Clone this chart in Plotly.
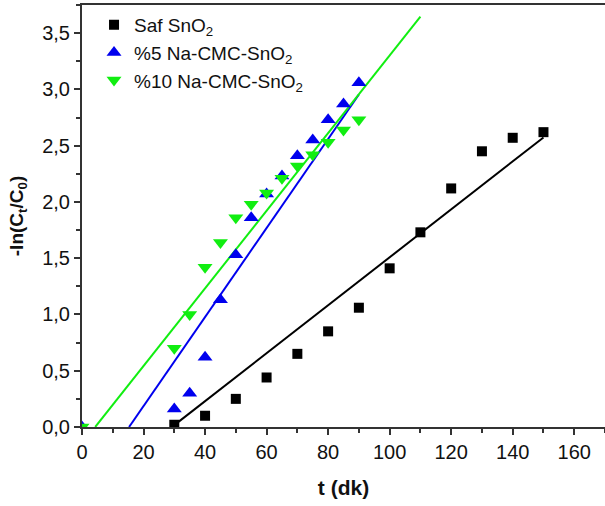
import numpy as np
import plotly.graph_objects as go

# Data
t_saf = [30, 40, 50, 60, 70, 80, 90, 100, 110, 120, 130, 140, 150]
y_saf = [0.02, 0.10, 0.25, 0.44, 0.65, 0.85, 1.06, 1.41, 1.73, 2.12, 2.45, 2.57, 2.62]

t_na5 = [0, 30, 35, 40, 45, 50, 55, 60, 65, 70, 75, 80, 85, 90]
y_na5 = [0.0, 0.16, 0.30, 0.62, 1.13, 1.53, 1.86, 2.07, 2.23, 2.41, 2.55, 2.73, 2.87, 3.06]

t_na10 = [0, 30, 35, 40, 45, 50, 55, 60, 65, 70, 75, 80, 85, 90]
y_na10 = [0.0, 0.70, 1.00, 1.42, 1.64, 1.86, 1.98, 2.08, 2.21, 2.32, 2.42, 2.53, 2.64, 2.73]

# Linear fit lines (slope, intercept, x-range)
fit_saf = dict(slope=0.0213, intercept=-0.622, x0=30, x1=150)
fit_na5 = dict(slope=0.03955, intercept=-0.605, x0=15.3, x1=90)
fit_na10 = dict(slope=0.0345, intercept=-0.148, x0=4.3, x1=110)

names = ["Saf SnO<sub>2</sub>", "%5 Na-CMC-SnO<sub>2</sub>", "%10 Na-CMC-SnO<sub>2</sub>"]
colors = ["#000000", "#0000ee", "#11ee11"]
symbols = ["square", "triangle-up", "triangle-down"]
sizes = [10, 13, 13]

fig = go.Figure()

for fit, c in zip([fit_saf, fit_na5, fit_na10], colors):
    xs = np.array([fit["x0"], fit["x1"]])
    ys = fit["slope"] * xs + fit["intercept"]
    fig.add_trace(go.Scatter(x=xs, y=ys, mode="lines", line=dict(color=c, width=2),
                             showlegend=False, hoverinfo="skip"))

for xs, ys, n, c, s, sz in zip([t_saf, t_na5, t_na10], [y_saf, y_na5, y_na10],
                               names, colors, symbols, sizes):
    fig.add_trace(go.Scatter(x=xs, y=ys, mode="markers", name=n,
                             marker=dict(color=c, symbol=s, size=sz, line=dict(width=0))))

FONT = "Liberation Sans, Arial"
axis_font = dict(family=FONT, size=20, color="#111111")

fig.update_layout(
    width=605, height=506,
    margin=dict(l=82, r=0, t=5, b=79, autoexpand=False),
    paper_bgcolor="white", plot_bgcolor="white",
    separators=",.",
    font=dict(family=FONT, color="#111111"),
    legend=dict(x=0.023, y=0.998, xanchor="left", yanchor="top",
                bgcolor="rgba(0,0,0,0)", font=dict(size=19, family=FONT),
                itemwidth=30),
    xaxis=dict(range=[0, 170], tickvals=[0, 20, 40, 60, 80, 100, 120, 140, 160],
               automargin=False,
               ticks="outside", ticklen=6, tickwidth=2, tickcolor="#333333",
               showline=True, linewidth=2, linecolor="#333333", mirror=True,
               showgrid=False, zeroline=False,
               minor=dict(dtick=10, ticks="outside", ticklen=4, tickwidth=1.5, tickcolor="#333333"),
               tickfont=axis_font,
               title=dict(text="<b>t (dk)</b>", font=dict(size=21, family=FONT), standoff=18)),
    yaxis=dict(range=[0, 3.75], tickvals=[0, 0.5, 1.0, 1.5, 2.0, 2.5, 3.0, 3.5], tickformat=".1f",
               automargin=False,
               ticks="outside", ticklen=6, tickwidth=2, tickcolor="#333333",
               showline=True, linewidth=2, linecolor="#333333", mirror=False,
               showgrid=False, zeroline=False,
               minor=dict(dtick=0.25, ticks="outside", ticklen=4, tickwidth=1.5, tickcolor="#333333"),
               tickfont=axis_font,
               title=dict(text="<b>-ln(C<sub>t</sub>/C<sub>0</sub>)</b>", font=dict(size=19, family=FONT), standoff=14)),
)
fig.update_xaxes(tickprefix="<b>", ticksuffix="</b>")
fig.update_yaxes(tickprefix="<b>", ticksuffix="</b>")

fig.write_html("out.html", config={"displayModeBar": False},
               post_script="document.body.style.margin='0';")
